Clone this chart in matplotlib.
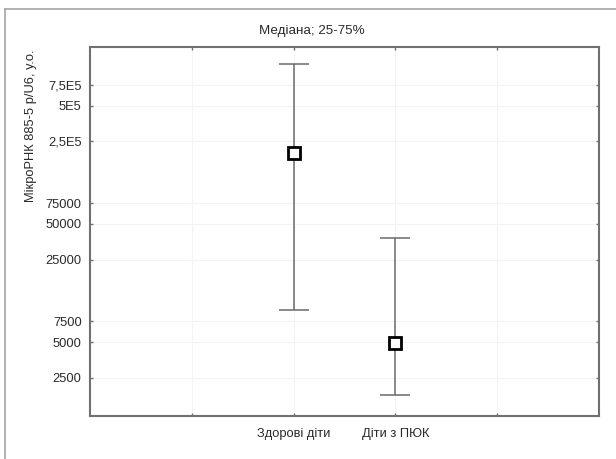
import matplotlib
matplotlib.use("Agg")
import matplotlib.pyplot as plt
from matplotlib.lines import Line2D
import numpy as np

plt.rcParams['font.family'] = ['Liberation Sans', 'DejaVu Sans']

categories = ["Здорові діти", "Діти з ПЮК"]
medians = [1.98e5, 4890]
q25 = [9350, 1786]
q75 = [1.127e6, 38200]

ytick_values = [2500, 5000, 7500, 25000, 50000, 75000, 2.5e5, 5e5, 7.5e5]
ytick_labels = ["2500", "5000", "7500", "25000", "50000", "75000", "2,5E5", "5E5", "7,5E5"]

title = "Медіана; 25-75%"
ylabel = "МікроРНК 885-5 р/U6, у.о."

W, H = 616, 459
fig = plt.figure(figsize=(W / 100, H / 100), dpi=100)
ax = fig.add_axes([90 / W, 1 - 416 / H, (599 - 90) / W, (416 - 47) / H])

spine_c = "#707070"
txt_c = "#2a2a2a"
x = np.arange(len(categories)) + 2
med = np.array(medians)
lo = med - np.array(q25)
hi = np.array(q75) - med

ax.errorbar(x, med, yerr=[lo, hi], fmt='none', ecolor="#6a6a6a", elinewidth=1.1,
            capsize=10.5, capthick=1.1, zorder=3)
ax.plot(x, med, linestyle='none', marker='s', markersize=8.5, markerfacecolor='white',
        markeredgecolor='black', markeredgewidth=2, zorder=4)

ax.set_yscale('log')
ax.set_ylim(1186, 1.57e6)
ax.set_xlim(0, 5)
ax.yaxis.set_major_locator(matplotlib.ticker.FixedLocator(ytick_values))
ax.yaxis.set_minor_locator(matplotlib.ticker.NullLocator())
ax.set_yticklabels(ytick_labels)
ax.set_xticks([1, 2, 3, 4])
ax.set_xticklabels(["", categories[0], categories[1], ""])

ax.tick_params(axis='both', which='major', direction='in', length=2.5, width=1,
               color=spine_c, labelsize=9.3, labelcolor=txt_c,
               top=True, right=True)
ax.tick_params(axis='y', pad=6)
ax.tick_params(axis='x', pad=9)

ax.grid(True, color="#f3f3f3", linewidth=0.8, zorder=0)
ax.set_axisbelow(True)

for s in ax.spines.values():
    s.set_color(spine_c)
    s.set_linewidth(1.5)

fig.text(312 / W, 1 - 31 / H, title, ha='center', va='center', fontsize=9.6, color=txt_c)
fig.text(31 / W, 1 - 50 / H, ylabel, ha='center', va='top', rotation=90,
         fontsize=9.3, color=txt_c)

# outer frame lines (top and left)
fig.add_artist(Line2D([4.5 / W, 1.0], [1 - 9 / H, 1 - 9 / H], transform=fig.transFigure,
                      color="#aaaaaa", linewidth=1.3))
fig.add_artist(Line2D([4.5 / W, 4.5 / W], [0, 1 - 9 / H], transform=fig.transFigure,
                      color="#aaaaaa", linewidth=1.3))

fig.savefig("out.png", dpi=100)
